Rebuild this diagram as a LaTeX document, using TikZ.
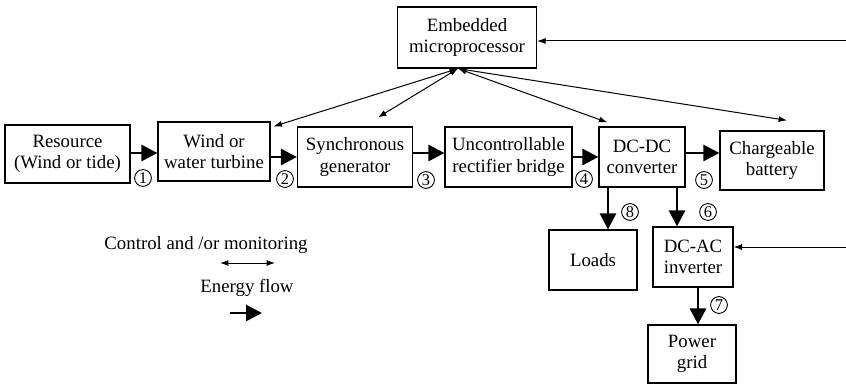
\documentclass[tikz,border=0pt]{standalone}
\usepackage{fontspec}
\setmainfont{Liberation Serif}
\newfontfamily\tmsfont{Liberation Serif}
\usetikzlibrary{arrows.meta, calc}

\tikzset{
    blk/.style={draw, line width=0.6pt, align=center, inner sep=1pt,
        font=\tmsfont\fontsize{9.4}{10.6}\selectfont},
    energy/.style={-{Triangle[length=8pt,width=8pt]}, line width=1.4pt},
    ctrl/.style={{Latex[length=4.2pt,width=3pt]}-{Latex[length=4.2pt,width=3pt]}, line width=0.5pt},
    ctrlin/.style={-{Latex[length=4.2pt,width=3pt]}, line width=0.5pt},
    num/.style={circle, draw, line width=0.45pt, inner sep=0pt, minimum size=8.4pt,
        font=\tmsfont\fontsize{8.2}{9}\selectfont},
    lbl/.style={font=\tmsfont\fontsize{9.4}{10.6}\selectfont}
}

\begin{document}
\begin{tikzpicture}[x=0.5pt, y=-0.5pt]
        \useasboundingbox (0,0) rectangle (846,385);

        \node[blk, minimum width=69.5pt, minimum height=30.5pt] (micro) at (467,37.5) {Embedded\\microprocessor};
        \node[blk, minimum width=62.5pt, minimum height=29pt] (res) at (67.5,154) {Resource\\(Wind or tide)};
        \node[blk, minimum width=56pt, minimum height=29.5pt] (turb) at (214,151.5) {Wind or\\water turbine};
        \node[blk, minimum width=57.5pt, minimum height=30pt] (sync) at (355,157) {Synchronous\\generator};
        \node[blk, minimum width=63.5pt, minimum height=30pt] (rect) at (508.5,157) {Uncontrollable\\rectifier bridge};
        \node[blk, minimum width=43pt, minimum height=30pt] (dcdc) at (642,157) {DC-DC\\converter};
        \node[blk, minimum width=52pt, minimum height=29.5pt] (batt) at (772,160.5) {Chargeable\\battery};
        \node[blk, minimum width=44pt, minimum height=30pt] (loads) at (593,260) {Loads};
        \node[blk, minimum width=40pt, minimum height=30pt] (dcac) at (693,257) {DC-AC\\inverter};
        \node[blk, minimum width=44pt, minimum height=29pt] (grid) at (692,354) {Power\\grid};

        \draw[energy] ([yshift=0.5pt]res.east) -- ([yshift=0.5pt]res.east -| turb.west);
        \draw[energy] (sync.west -| turb.east) -- (sync.west);
        \draw[energy] ([yshift=2pt]sync.east) -- ([yshift=2pt]rect.west);
        \draw[energy] (rect.east) -- (dcdc.west);
        \draw[energy] ([yshift=2pt]dcdc.east) -- ([yshift=2pt]dcdc.east -| batt.west);
        \draw[energy] ([xshift=-17pt]dcdc.south) -- ([xshift=-17pt]dcdc.south |- loads.north);
        \draw[energy] ([xshift=17.5pt]dcdc.south) -- ([xshift=17.5pt]dcdc.south |- dcac.north);
        \draw[energy] ([xshift=2.5pt]dcac.south) -- ([xshift=2.5pt]dcac.south |- grid.north);

        \node[num] (n1) at (143,178) {1};
        \node[num] (n2) at (285,179) {2};
        \node[num] (n3) at (426,180) {3};
        \node[num] (n4) at (584,179) {4};
        \node[num] (n5) at (704,180) {5};
        \node[num] (n8) at (630,212) {8};
        \node[num] (n6) at (708,212) {6};
        \node[num] (n7) at (719,305) {7};

        \coordinate (hub) at ($(micro.south)+(-9,0)$);
        \draw[ctrl] (hub) -- ($(turb.north east)+(3,5)$);
        \draw[ctrl] (hub) -- ($(sync.north)+(23,-9)$);
        \draw[ctrl] (hub) -- ($(dcdc.north west)+(9,-4)$);
        \draw[ctrl] (hub) -- ($(batt.north)+(15,-10)$);

        \coordinate (edgeA) at (846,41);
        \coordinate (edgeB) at (846,247);
        \draw[ctrlin] (edgeA) -- (edgeA -| micro.east);
        \draw[ctrlin] (edgeB) -- (edgeB -| dcac.east);

        \node[lbl] (ctrltxt) at (206,245) {Control and /or monitoring};
        \coordinate (ctrlL) at (220,263);
        \coordinate (ctrlR) at (275,263);
        \draw[ctrl] (ctrlL) -- (ctrlR);
        \node[lbl] (energytxt) at (247,288) {Energy flow};
        \coordinate (enL) at (230,313);
        \coordinate (enR) at (262,313);
        \draw[energy] (enL) -- (enR);
    \end{tikzpicture}
\end{document}
